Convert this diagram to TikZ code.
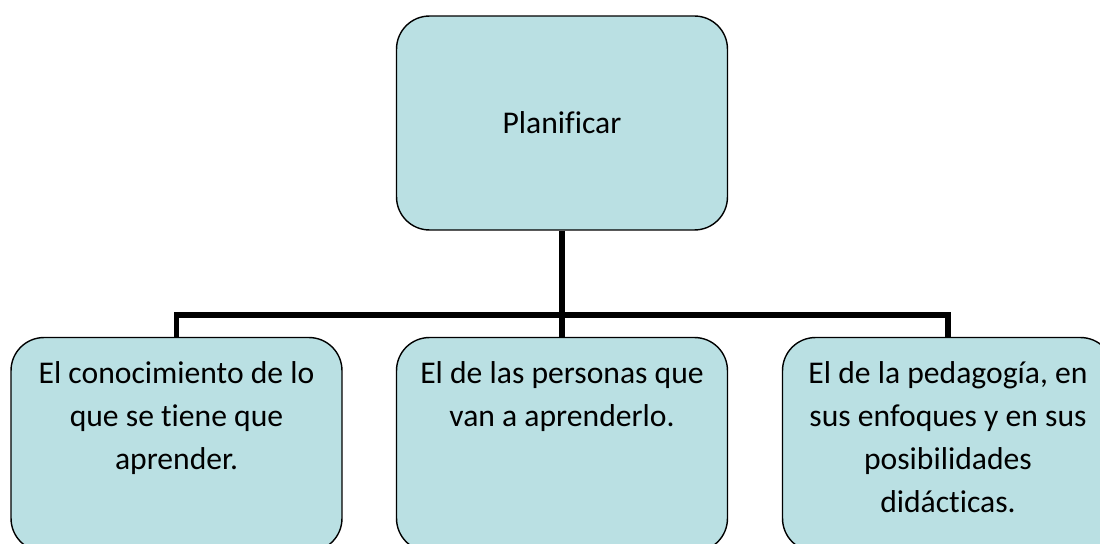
\documentclass[tikz,border=0pt]{standalone}
\usepackage{fontspec}
\setmainfont[Ligatures=NoCommon]{Carlito}
\definecolor{cajafondo}{RGB}{186,224,227}
\begin{document}
\begin{tikzpicture}[x=0.02cm,y=-0.02cm]
	\tikzstyle{every node}+=[inner sep=0pt]
	\tikzstyle{caja}=[draw=black, line width=0.8pt, fill=cajafondo, rounded corners=0.66cm, minimum width=6.62cm, minimum height=4.28cm]
	\tikzstyle{texto}=[anchor=north, align=center, font=\fontsize{18}{24.5}\selectfont]
	\tikzstyle{conector}=[black, line width=3.4pt]
	\useasboundingbox (0,0) rectangle (1100,544);
	\node [caja, font=\fontsize{18}{24.5}\selectfont] (plan) at (562,123) {Planificar};
	\node [caja] (izq) at (176.5,444.5) {};
	\node [texto] (izqtexto) at ([yshift=-0.48cm]izq.north) {El conocimiento de lo\\que se tiene que\\aprender.};
	\node [caja] (medio) at (562,444.5) {};
	\node [texto] (mediotexto) at ([yshift=-0.48cm]medio.north) {El de las personas que\\van a aprenderlo.};
	\node [caja] (der) at (948,444.5) {};
	\node [texto] (dertexto) at ([yshift=-0.48cm]der.north) {El de la pedagogía, en\\sus enfoques y en sus\\posibilidades\\didácticas.};
	\coordinate (bus) at (562,315);
	\draw [conector] (plan.south) -- (bus);
	\draw [conector] (izq.north) -- (izq.north |- bus) -- (der.north |- bus) -- (der.north);
	\draw [conector] (medio.north) -- (bus);
\end{tikzpicture}
\end{document}
